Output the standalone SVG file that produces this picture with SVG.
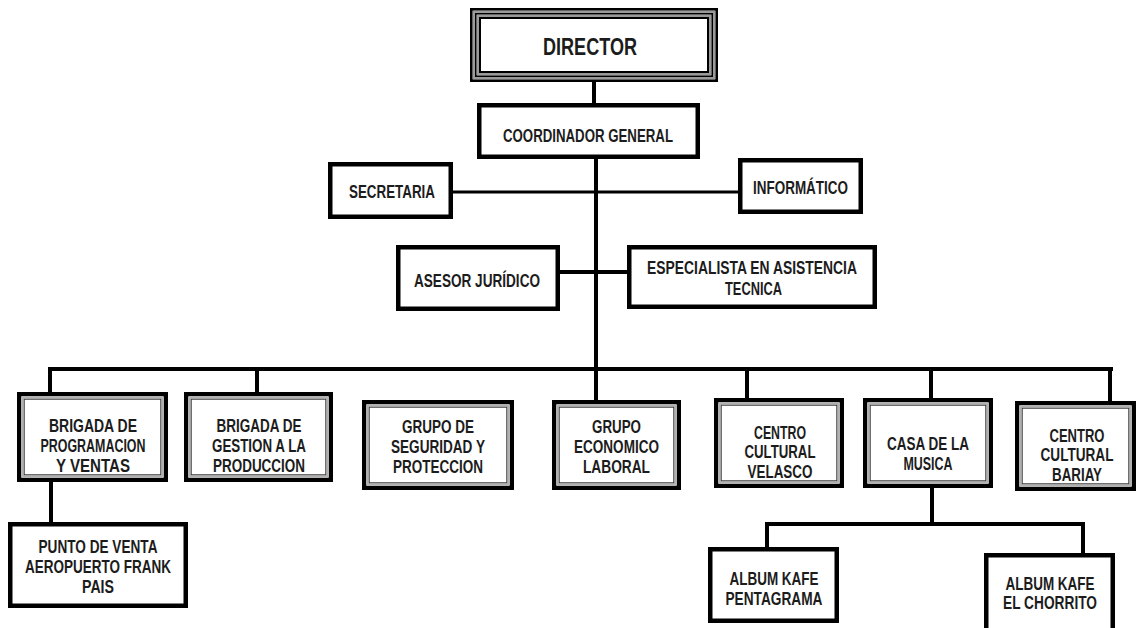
<svg xmlns="http://www.w3.org/2000/svg" width="1136" height="628" viewBox="0 0 1136 628">
  <style>
    text { font-family: "Liberation Sans Narrow", "Liberation Sans", Arial, sans-serif; font-weight: bold; font-size: 18px; fill: #1c1c1c; text-anchor: middle; }
    .big { font-size: 23px; }
    .box { fill: #fff; stroke: #000; stroke-width: 4.5; }
    .dbo { fill: #fff; stroke: #000; stroke-width: 4.3; }
    .dbg { fill: none; stroke: #a8a8a8; stroke-width: 1.4; }
    .dbi { fill: none; stroke: #333; stroke-width: 1; }
    .tk { fill: none; stroke: #000; }
    .tg { fill: none; stroke: #9a9a9a; }
    .ln { fill: none; stroke: #000; stroke-width: 4; stroke-linecap: square; }
    .ln3 { stroke-width: 3; }
  </style>

  <rect width="1136" height="628" fill="#fff"/>

  <!-- connectors -->
  <g id="connectors">
    <path class="ln" d="M594 82 V103"/>
    <path class="ln" d="M596 159 V400"/>
    <path class="ln ln3" d="M453 192 H738"/>
    <path class="ln" d="M560 272 H627"/>
    <path class="ln" d="M50 369 H1111"/>
    <path class="ln" d="M50 369 V392"/>
    <path class="ln" d="M257 369 V392"/>
    <path class="ln" d="M747 369 V398"/>
    <path class="ln" d="M931 369 V398"/>
    <path class="ln" d="M1110 369 V401"/>
    <path class="ln" d="M51 482 V522"/>
    <path class="ln" d="M932 488 V524"/>
    <path class="ln" d="M767 524 H1083"/>
    <path class="ln" d="M767 524 V547"/>
    <path class="ln" d="M1083 524 V553"/>
  </g>

  <!-- top level: triple border -->
  <g id="director">
    <rect x="471.35" y="9.35" width="245.3" height="71.3" fill="#fff" class="tk" stroke-width="2.7"/>
    <rect x="473.85" y="11.85" width="240.3" height="66.3" class="tg" stroke-width="2.3"/>
    <rect x="475.85" y="13.85" width="236.3" height="62.3" class="tk" stroke-width="1.7"/>
    <rect x="477.85" y="15.85" width="232.3" height="58.3" class="tg" stroke-width="2.3"/>
    <rect x="480" y="18" width="228" height="54" class="tk" stroke-width="2"/>
    <text class="big" x="590" y="55" textLength="94" lengthAdjust="spacingAndGlyphs">DIRECTOR</text>
  </g>

  <g id="coordinador">
    <rect class="box" x="479.25" y="105.25" width="218.5" height="51.5"/>
    <text x="588" y="142" textLength="170" lengthAdjust="spacingAndGlyphs">COORDINADOR GENERAL</text>
  </g>

  <g id="secretaria">
    <rect class="box" x="330.25" y="164.25" width="120.5" height="52.5"/>
    <text x="392" y="198" textLength="86" lengthAdjust="spacingAndGlyphs">SECRETARIA</text>
  </g>

  <g id="informatico">
    <rect class="box" x="740.25" y="160.25" width="120.5" height="51.5"/>
    <text x="800.5" y="194" textLength="95" lengthAdjust="spacingAndGlyphs">INFORMÁTICO</text>
  </g>

  <g id="asesor">
    <rect class="box" x="398.25" y="247.25" width="159.5" height="61.5"/>
    <text x="477" y="287" textLength="126" lengthAdjust="spacingAndGlyphs">ASESOR JURÍDICO</text>
  </g>

  <g id="especialista">
    <rect class="box" x="629.25" y="247.25" width="245.5" height="59.5"/>
    <text x="752" y="274" textLength="210" lengthAdjust="spacingAndGlyphs">ESPECIALISTA EN ASISTENCIA</text>
    <text x="753.5" y="295" textLength="57" lengthAdjust="spacingAndGlyphs">TECNICA</text>
  </g>

  <!-- second level: double border -->
  <g id="brigada-programacion">
    <rect class="dbo" x="19.15" y="394.15" width="146.7" height="85.7"/>
    <rect class="dbg" x="22.8" y="397.8" width="139.4" height="78.4"/>
    <rect class="dbi" x="24.2" y="399.2" width="136.6" height="75.6"/>
    <text x="93" y="432" textLength="88" lengthAdjust="spacingAndGlyphs">BRIGADA DE</text>
    <text x="93" y="452" textLength="105" lengthAdjust="spacingAndGlyphs">PROGRAMACION</text>
    <text x="93" y="471.5" textLength="74" lengthAdjust="spacingAndGlyphs">Y VENTAS</text>
  </g>

  <g id="brigada-gestion">
    <rect class="dbo" x="186.15" y="394.15" width="144.7" height="85.7"/>
    <rect class="dbg" x="189.8" y="397.8" width="137.4" height="78.4"/>
    <rect class="dbi" x="191.2" y="399.2" width="134.6" height="75.6"/>
    <text x="259" y="432" textLength="85" lengthAdjust="spacingAndGlyphs">BRIGADA DE</text>
    <text x="259" y="452" textLength="94" lengthAdjust="spacingAndGlyphs">GESTION A LA</text>
    <text x="259" y="471.5" textLength="92" lengthAdjust="spacingAndGlyphs">PRODUCCION</text>
  </g>

  <g id="grupo-seguridad">
    <rect class="dbo" x="364.15" y="402.15" width="147.7" height="85.7"/>
    <rect class="dbg" x="367.8" y="405.8" width="140.4" height="78.4"/>
    <rect class="dbi" x="369.2" y="407.2" width="137.6" height="75.6"/>
    <text x="438" y="433" textLength="72" lengthAdjust="spacingAndGlyphs">GRUPO DE</text>
    <text x="438" y="453" textLength="94" lengthAdjust="spacingAndGlyphs">SEGURIDAD Y</text>
    <text x="438" y="473" textLength="90" lengthAdjust="spacingAndGlyphs">PROTECCION</text>
  </g>

  <g id="grupo-economico">
    <rect class="dbo" x="554.15" y="402.15" width="124.7" height="85.7"/>
    <rect class="dbg" x="557.8" y="405.8" width="117.4" height="78.4"/>
    <rect class="dbi" x="559.2" y="407.2" width="114.6" height="75.6"/>
    <text x="616.5" y="433" textLength="49" lengthAdjust="spacingAndGlyphs">GRUPO</text>
    <text x="616.5" y="453" textLength="85" lengthAdjust="spacingAndGlyphs">ECONOMICO</text>
    <text x="616.5" y="473" textLength="67" lengthAdjust="spacingAndGlyphs">LABORAL</text>
  </g>

  <g id="centro-velasco">
    <rect class="dbo" x="716.15" y="400.15" width="125.7" height="85.7"/>
    <rect class="dbg" x="719.8" y="403.8" width="118.4" height="78.4"/>
    <rect class="dbi" x="721.2" y="405.2" width="115.6" height="75.6"/>
    <text x="780" y="439" textLength="52" lengthAdjust="spacingAndGlyphs">CENTRO</text>
    <text x="780" y="458" textLength="71" lengthAdjust="spacingAndGlyphs">CULTURAL</text>
    <text x="780" y="477.5" textLength="65" lengthAdjust="spacingAndGlyphs">VELASCO</text>
  </g>

  <g id="casa-musica">
    <rect class="dbo" x="865.15" y="400.15" width="125.7" height="85.7"/>
    <rect class="dbg" x="868.8" y="403.8" width="118.4" height="78.4"/>
    <rect class="dbi" x="870.2" y="405.2" width="115.6" height="75.6"/>
    <text x="928" y="450" textLength="82" lengthAdjust="spacingAndGlyphs">CASA DE LA</text>
    <text x="928" y="470" textLength="49" lengthAdjust="spacingAndGlyphs">MUSICA</text>
  </g>

  <g id="centro-bariay">
    <rect class="dbo" x="1017.15" y="403.15" width="116.7" height="85.7"/>
    <rect class="dbg" x="1020.8" y="406.8" width="109.4" height="78.4"/>
    <rect class="dbi" x="1022.2" y="408.2" width="106.6" height="75.6"/>
    <text x="1077" y="441.5" textLength="55" lengthAdjust="spacingAndGlyphs">CENTRO</text>
    <text x="1077" y="461" textLength="73" lengthAdjust="spacingAndGlyphs">CULTURAL</text>
    <text x="1077" y="480.5" textLength="50" lengthAdjust="spacingAndGlyphs">BARIAY</text>
  </g>

  <!-- third level -->
  <g id="punto-venta">
    <rect class="box" x="10.25" y="524.25" width="175.5" height="81.5"/>
    <text x="98" y="553" textLength="119" lengthAdjust="spacingAndGlyphs">PUNTO DE VENTA</text>
    <text x="98" y="573" textLength="146" lengthAdjust="spacingAndGlyphs">AEROPUERTO FRANK</text>
    <text x="98" y="593" textLength="32" lengthAdjust="spacingAndGlyphs">PAIS</text>
  </g>

  <g id="album-pentagrama">
    <rect class="box" x="710.25" y="549.25" width="126.5" height="71.5"/>
    <text x="774" y="585" textLength="89" lengthAdjust="spacingAndGlyphs">ALBUM KAFE</text>
    <text x="774" y="605" textLength="97" lengthAdjust="spacingAndGlyphs">PENTAGRAMA</text>
  </g>

  <g id="album-chorrito">
    <rect class="box" x="986.25" y="555.25" width="126.5" height="76.5"/>
    <text x="1050" y="590" textLength="89" lengthAdjust="spacingAndGlyphs">ALBUM KAFE</text>
    <text x="1050" y="609" textLength="94" lengthAdjust="spacingAndGlyphs">EL CHORRITO</text>
  </g>
</svg>
